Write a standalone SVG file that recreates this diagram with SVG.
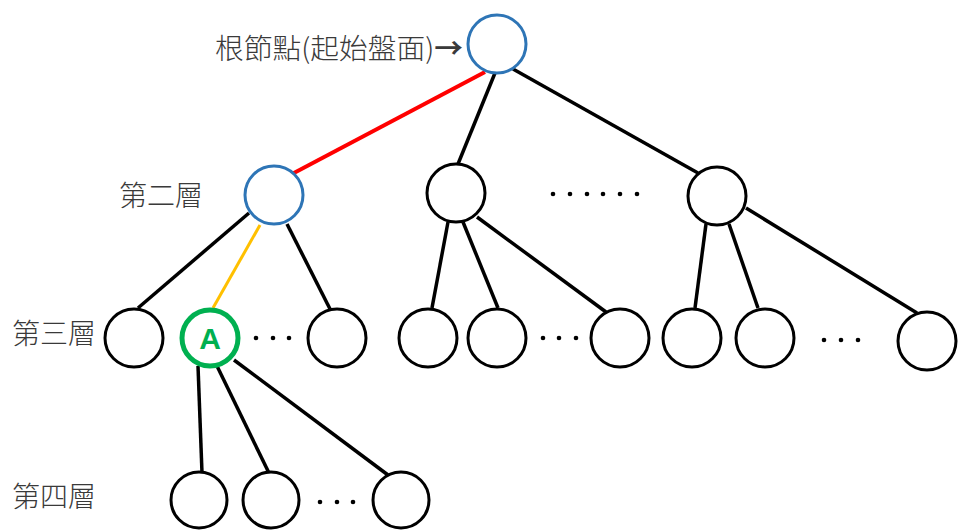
<svg xmlns="http://www.w3.org/2000/svg" width="967" height="530" viewBox="0 0 967 530">
  <style>
    .node { fill: #ffffff; stroke: #000000; stroke-width: 3; }
    .blue { fill: #ffffff; stroke: #2e75b6; stroke-width: 3; }
    .green { fill: #ffffff; stroke: #00b050; stroke-width: 5; }
    .edge { stroke: #000000; stroke-width: 3.5; stroke-linecap: butt; fill: none; }
    .red { stroke: #ff0000; stroke-width: 4; }
    .yellow { stroke: #ffc000; stroke-width: 3; }
    .label { font-family: "Noto Sans CJK TC", "Noto Sans CJK SC", sans-serif; font-size: 28px; font-weight: 300; fill: #3a3a3a; }
    .dot { fill: #000000; }
  </style>
  <rect width="967" height="530" fill="#ffffff"/>

  <!-- connectors -->
  <g id="connectors">
    <line class="edge red" x1="485" y1="72" x2="292" y2="174"/>
    <line class="edge" x1="495" y1="73" x2="458" y2="164"/>
    <line class="edge" x1="513" y1="69" x2="698" y2="173"/>

    <line class="edge" x1="249" y1="213" x2="138" y2="308"/>
    <line class="edge yellow" x1="260" y1="225" x2="213" y2="308"/>
    <line class="edge" x1="287" y1="224" x2="330" y2="309"/>

    <line class="edge" x1="448" y1="222" x2="432" y2="308"/>
    <line class="edge" x1="463" y1="222" x2="498" y2="308"/>
    <line class="edge" x1="477" y1="217" x2="606" y2="312"/>

    <line class="edge" x1="706" y1="224" x2="695" y2="308"/>
    <line class="edge" x1="729" y1="224" x2="758" y2="308"/>
    <line class="edge" x1="746" y1="208" x2="917" y2="313"/>

    <line class="edge" x1="198" y1="366" x2="202" y2="473"/>
    <line class="edge" x1="217" y1="366" x2="269" y2="473"/>
    <line class="edge" x1="234" y1="360" x2="388" y2="475"/>
  </g>

  <!-- root -->
  <g id="root">
    <circle class="blue" cx="497" cy="44" r="29"/>
    <text class="label" x="215" y="59" textLength="248" lengthAdjust="spacingAndGlyphs">根節點(起始盤面)<tspan font-weight="bold">→</tspan></text>
  </g>

  <!-- level 2 -->
  <g id="l2-a">
    <circle class="blue" cx="274" cy="195" r="29"/>
  </g>
  <g id="l2-b">
    <circle class="node" cx="456" cy="193" r="29"/>
  </g>
  <g id="l2-c">
    <circle class="node" cx="717" cy="196" r="29"/>
  </g>

  <!-- level 3 -->
  <g id="l3-a"><circle class="node" cx="134" cy="338" r="29"/></g>
  <g id="l3-A">
    <circle class="green" cx="210" cy="338" r="28"/>
    <text x="210" y="349" text-anchor="middle" font-family="Liberation Sans, Arial, sans-serif" font-weight="bold" font-size="30" fill="#00b050">A</text>
  </g>
  <g id="l3-c"><circle class="node" cx="337" cy="338" r="29"/></g>
  <g id="l3-d"><circle class="node" cx="428" cy="338" r="29"/></g>
  <g id="l3-e"><circle class="node" cx="497" cy="338" r="29"/></g>
  <g id="l3-f"><circle class="node" cx="620" cy="338" r="29"/></g>
  <g id="l3-g"><circle class="node" cx="692" cy="338" r="29"/></g>
  <g id="l3-h"><circle class="node" cx="765" cy="338" r="29"/></g>
  <g id="l3-i"><circle class="node" cx="927" cy="341" r="29"/></g>

  <!-- level 4 -->
  <g id="l4-a"><circle class="node" cx="199" cy="500" r="28"/></g>
  <g id="l4-b"><circle class="node" cx="271" cy="500" r="28"/></g>
  <g id="l4-c"><circle class="node" cx="401" cy="500" r="28"/></g>

  <!-- level labels -->
  <g id="labels">
    <text class="label" x="119" y="206">第二層</text>
    <text class="label" x="12" y="344">第三層</text>
    <text class="label" x="12" y="507">第四層</text>
  </g>

  <!-- ellipsis dots -->
  <g id="ellipses">
    <circle class="dot" cx="553" cy="194" r="2.3"/>
    <circle class="dot" cx="570" cy="194" r="2.3"/>
    <circle class="dot" cx="587" cy="194" r="2.3"/>
    <circle class="dot" cx="603" cy="194" r="2.3"/>
    <circle class="dot" cx="620" cy="194" r="2.3"/>
    <circle class="dot" cx="637" cy="194" r="2.3"/>

    <circle class="dot" cx="256" cy="338" r="2.3"/>
    <circle class="dot" cx="273" cy="338" r="2.3"/>
    <circle class="dot" cx="289" cy="338" r="2.3"/>

    <circle class="dot" cx="543" cy="338" r="2.3"/>
    <circle class="dot" cx="559" cy="338" r="2.3"/>
    <circle class="dot" cx="576" cy="338" r="2.3"/>

    <circle class="dot" cx="824" cy="340" r="2.3"/>
    <circle class="dot" cx="841" cy="340" r="2.3"/>
    <circle class="dot" cx="858" cy="340" r="2.3"/>

    <circle class="dot" cx="320" cy="502" r="2.3"/>
    <circle class="dot" cx="337" cy="502" r="2.3"/>
    <circle class="dot" cx="353" cy="502" r="2.3"/>
  </g>
</svg>
